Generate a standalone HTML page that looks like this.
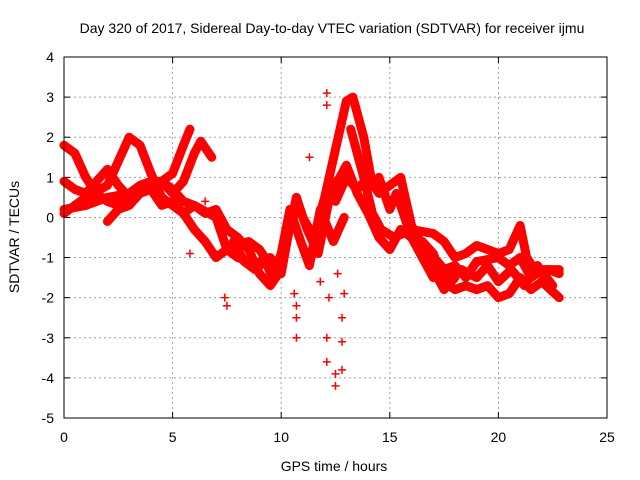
<!DOCTYPE html>
<html><head><meta charset="utf-8"><style>
body{margin:0;background:#fff;}
svg{display:block;font-family:"Liberation Sans",sans-serif;}
</style></head><body>
<svg id="chart" width="640" height="480">
<text x="332" y="33" font-size="14" text-anchor="middle">Day 320 of 2017, Sidereal Day-to-day VTEC variation (SDTVAR) for receiver ijmu</text>
<g id="grid"></g>
<g id="ticks"></g>
<g id="marks"></g>
<rect x="64" y="57" width="543" height="361" fill="none" stroke="#000" stroke-width="1"/>
<text x="334" y="471" font-size="14" text-anchor="middle">GPS time / hours</text>
<text transform="translate(19,237) rotate(-90)" font-size="14" text-anchor="middle">SDTVAR / TECUs</text>
</svg>
<script>
const xTicks=[0,5,10,15,20,25];
const yTicks=[-5,-4,-3,-2,-1,0,1,2,3,4];
const trace1=[[0,0.2],[1,0.3],[2,0.5],[3,0.6],[4,0.7],[5,1.1],[5.5,1.8],[5.8,2.2]];
const trace2=[[0,1.8],[0.5,1.6],[1,1.0],[1.5,0.6],[2,0.4],[2.5,0.3],[3,0.6],[3.5,0.8],[4,0.9],[4.5,0.9],[5,0.6],[5.5,0.9],[6,1.6],[6.3,1.9],[6.8,1.5]];
const trace3=[[0,0.1],[1,0.5],[2,0.8],[2.5,1.4],[3,2.0],[3.5,1.8],[4,1.1],[4.5,0.5],[5,0.3],[5.5,0.1],[6,0.3],[7,0],[7.5,-0.8],[8,-1.0],[9,-1.2],[9.5,-1.0],[10,-1.4],[10.3,-0.5],[10.7,0.5],[11,0],[11.5,-0.5],[12,0.5],[12.5,1.7],[13,2.9],[13.3,3.0],[13.8,2.0],[14.2,0.8],[14.5,1.0],[15,0.2],[15.3,0.6],[15.5,0.3],[16,-0.5],[17,-1.5],[17.5,-1.3],[18,-1.2],[18.5,-1.5],[19,-1.1],[20,-1.0],[20.5,-1.2],[21,-1.0],[21.5,-1.5],[22,-1.3],[22.8,-1.3]];
const trace4=[[0,0.9],[0.5,0.7],[1,0.6],[1.5,0.9],[2,1.2],[2.5,0.8],[3,0.5],[3.5,0.8],[4,0.7],[4.5,0.3],[5,0.4],[5.5,0.1],[6,-0.3],[6.5,-0.6],[7,-1.0],[7.5,-0.8],[8,-0.7],[8.5,-0.6],[9,-0.8],[9.5,-1.2],[10,-1.1]];
const trace5=[[2,-0.1],[2.5,0.2],[3,0.3],[3.5,0.6],[4,0.7],[4.5,0.9],[5,0.7],[5.5,0.4],[6,0.3],[6.5,0.1],[7,0.2],[7.5,-0.3],[8,-0.5],[8.5,-0.8],[9,-1.4],[9.5,-1.7],[10,-1.3],[10.3,-0.3],[10.8,0.3],[11.2,-0.3],[11.7,-0.9],[12,-0.1],[12.3,0.7],[12.7,1.0],[13,1.3],[13.5,0.6],[14,0.1],[14.5,-0.5],[15,-0.8],[15.5,-0.3],[16,-0.5],[16.5,-0.6],[17,-0.9],[17.5,-1.6],[18,-1.8],[18.5,-1.7],[19,-1.8],[19.5,-1.7],[20,-2.0],[20.5,-1.9],[21,-1.5],[21.5,-1.8],[22,-1.6],[22.8,-2.0]];
const trace6=[[12.5,0.4],[13,1.0],[13.5,0.7],[14,1.0],[14.5,0.6],[15,0.8],[15.5,1.0],[16,-0.2],[16.5,-0.7],[17,-1.3],[17.5,-1.8],[18,-1.5]];
const trace7=[[13.2,2.2],[13.8,1.0],[14.2,0.1],[14.6,-0.3],[15.2,-0.5],[16,-0.3],[17,-0.4],[17.5,-0.6],[18,-1.0],[18.5,-0.9],[19,-0.7],[19.5,-0.8],[20,-0.9],[20.5,-0.8],[21,-0.2],[21.3,-1.0],[21.8,-1.4],[22.3,-1.3],[22.8,-1.4]];
const trace8=[[7.8,-0.6],[8.3,-1.1],[8.8,-1.3],[9.2,-1.0],[9.6,-1.5],[10,-0.9],[10.4,0.2],[10.9,-0.6],[11.3,-1.2],[11.8,0.2],[12.4,-0.6],[12.9,0.0]];
const trace9=[[17.2,-1.1],[17.8,-1.5],[18.3,-1.3],[19,-1.5],[19.5,-1.2],[20,-1.6],[20.6,-1.3],[21.2,-1.7],[21.8,-1.2],[22.5,-1.7]];
const outliers=[[7.5,-2.2],[10.7,-2.5],[10.7,-3],[12.1,-3.0],[12.1,-3.6],[12.5,-4.2],[12.5,-3.9],[12.8,-3.8],[12.8,-3.1],[12.8,-2.5],[12.2,-2.0],[12.1,3.1],[12.1,2.8],[11.3,1.5],[5.8,-0.9],[6.5,0.4],[10.6,-1.9],[12.3,1.2],[11.8,-1.6],[12.6,-1.4],[7.4,-2.0],[10.7,-2.2],[12.9,-1.9]];
const traces=[trace1,trace2,trace3,trace4,trace5,trace6,trace7,trace8,trace9];

const NS="http://www.w3.org/2000/svg";
const X0=64,X1=607,Y0=418,Y1=57;
function sx(h){return X0+(h-0)/(25-0)*(X1-X0);}
function sy(v){return Y0-(v+5)/(4+5)*(Y0-Y1);}
function mk(tag,attrs,parent){const e=document.createElementNS(NS,tag);for(const k in attrs)e.setAttribute(k,attrs[k]);parent.appendChild(e);return e;}
const grid=document.getElementById('grid'),ticks=document.getElementById('ticks'),marks=document.getElementById('marks');
xTicks.forEach(t=>{const x=sx(t);
 if(t>0&&t<25){const l=mk('line',{x1:x,x2:x,y1:Y1,y2:Y0,stroke:'#a0a0a0','stroke-dasharray':'2,3'},grid);
 
 }
 mk('line',{x1:x,x2:x,y1:Y0,y2:Y0-6,stroke:'#000'},ticks);mk('line',{x1:x,x2:x,y1:Y1,y2:Y1+6,stroke:'#000'},ticks);
 const tx=mk('text',{x:x,y:Y0+24,'font-size':'14','text-anchor':'middle'},ticks);tx.textContent=t;
 
 });
yTicks.forEach(t=>{const y=sy(t);
 if(t>-5&&t<4){const l=mk('line',{x1:X0,x2:X1,y1:y,y2:y,stroke:'#a0a0a0','stroke-dasharray':'2,3'},grid);
 
 }
 mk('line',{x1:X0,x2:X0+6,y1:y,y2:y,stroke:'#000'},ticks);mk('line',{x1:X1,x2:X1-6,y1:y,y2:y,stroke:'#000'},ticks);
 const tx=mk('text',{x:X0-10,y:y+5,'font-size':'14','text-anchor':'end'},ticks);tx.textContent=t;
 
 });
function plus(h,v){const x=sx(h),y=sy(v);
 const p=mk('path',{d:`M${x-4},${y}h8M${x},${y-4}v8`,stroke:'#f00','stroke-width':'1.5',fill:'none'},marks);
 
 }
traces.forEach((tr,i)=>{
 const pl=mk('polyline',{points:tr.map(p=>sx(p[0])+','+sy(p[1])).join(' '),fill:'none',stroke:'#f00','stroke-width':'9','stroke-linejoin':'round','stroke-linecap':'round'},marks);
 
 
 tr.forEach(p=>plus(p[0],p[1]));});
outliers.forEach(p=>plus(p[0],p[1]));
</script>
</body></html>
